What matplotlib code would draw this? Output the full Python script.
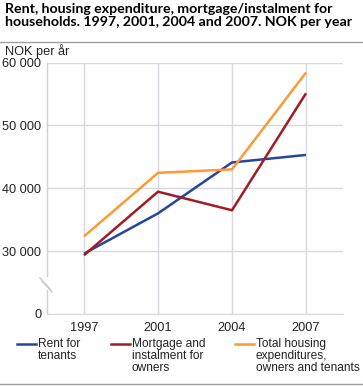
import matplotlib.pyplot as plt
from matplotlib.lines import Line2D

plt.rcParams['font.family'] = ['Liberation Sans', 'DejaVu Sans']

years = ['1997', '2001', '2004', '2007']
rent = [29600, 36000, 44100, 45300]
mortgage = [29350, 39450, 36500, 55100]
total = [32350, 42450, 43000, 58400]

series_names = ['Rent for\ntenants', 'Mortgage and\ninstalment for\nowners',
                'Total housing\nexpenditures,\nowners and tenants']
colors = ['#27469b', '#a01c24', '#fc9b35']

ytick_vals = [0, 30000, 40000, 50000, 60000]
ytick_labels = ['0', '30 000', '40 000', '50 000', '60 000']


# broken axis: 0 is drawn one step below 30 000
def brk(v):
    return (v - 20000) / 10000.0


W, H = 363, 386
fig = plt.figure(figsize=(W / 100, H / 100), dpi=100)
ax = fig.add_axes([47 / W, 1 - 314 / H, 296 / W, 251.5 / H])

x = range(len(years))
for vals, c in zip([rent, mortgage, total], colors):
    ax.plot(x, [brk(v) for v in vals], color=c, lw=1.8, solid_capstyle='butt')

ax.set_xlim(-0.5, 3.5)
ax.set_ylim(0, 4)
ax.set_xticks(list(x))
ax.set_xticklabels(years)
ticks_pos = [0] + [brk(v) for v in ytick_vals[1:]]
ax.set_yticks(ticks_pos)
ax.set_yticklabels(ytick_labels)
ax.tick_params(length=0, labelsize=9.2, colors='#222222', pad=4)
ax.tick_params(axis='x', pad=6)

ax.grid(True, color='#d8d8de', lw=1)
ax.set_axisbelow(True)
for s in ['top', 'right']:
    ax.spines[s].set_visible(False)
ax.spines['bottom'].set_color('#d8d8de')
ax.spines['left'].set_visible(False)
# left axis line with a gap for the break
ax.plot([-0.5, -0.5], [0, 0.38], color='#d0d0d8', lw=1, clip_on=False, zorder=1)
ax.plot([-0.5, -0.5], [0.6, 4], color='#d0d0d8', lw=1, clip_on=False, zorder=1)
fig.add_artist(Line2D([40 / W, 50 / W], [1 - 278 / H, 1 - 289 / H], color='#c8c8d0', lw=1))
fig.add_artist(Line2D([42 / W, 52 / W], [1 - 281 / H, 1 - 292 / H], color='#c8c8d0', lw=1))

fig.text(5 / W, 1 - 3 / H, 'Rent, housing expenditure, mortgage/instalment for\n'
         'households. 1997, 2001, 2004 and 2007. NOK per year',
         fontsize=10.2, fontweight='bold', family=['Lato', 'DejaVu Sans'],
         va='top', ha='left', linespacing=1.12)
fig.add_artist(Line2D([0, 1], [1 - 41.5 / H, 1 - 41.5 / H], color='#a0a0a0', lw=1))
fig.text(5 / W, 1 - 44 / H, 'NOK per år', fontsize=9.2, va='top', ha='left', color='#222222')

# legend
leg_x = [17, 111, 235]
for lx, name, c in zip(leg_x, series_names, colors):
    fig.add_artist(Line2D([lx / W, (lx + 19) / W], [1 - 344 / H, 1 - 344 / H], color=c, lw=1.8))
    fig.text((lx + 21) / W, 1 - 338 / H, name, fontsize=8.6, va='top', ha='left',
             linespacing=1.02, color='#222222')
fig.add_artist(Line2D([0, 1], [1 - 383.5 / H, 1 - 383.5 / H], color='#a0a0a0', lw=1))

fig.savefig('out.png', dpi=100)
